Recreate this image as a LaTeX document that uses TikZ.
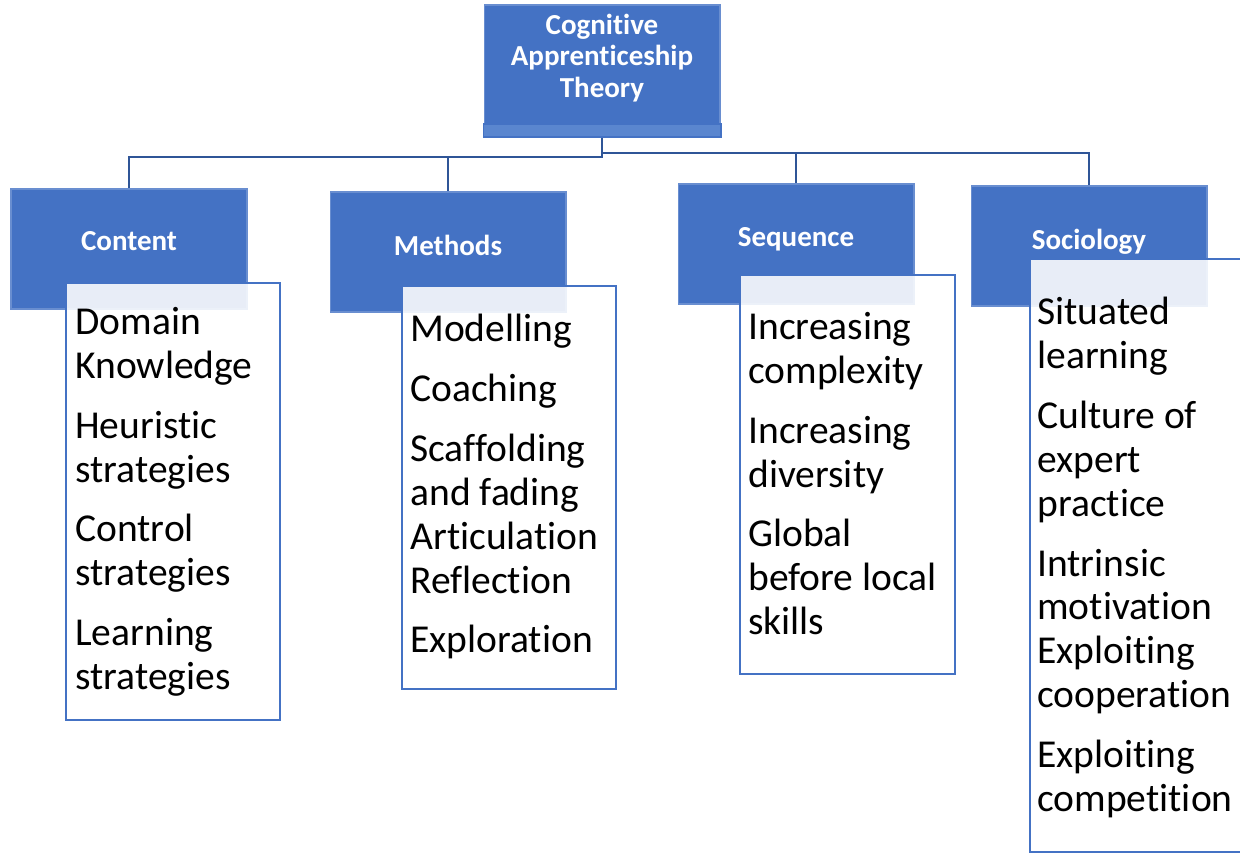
\documentclass[tikz,border=0pt]{standalone}
\usepackage{fontspec}
\setmainfont{Carlito}[Ligatures=NoCommon]
\definecolor{hdrblue}{HTML}{4472C4}
\definecolor{stripblue}{HTML}{5A86CF}
\definecolor{linkblue}{HTML}{2F5597}
\begin{document}
\begin{tikzpicture}[x=0.02cm, y=-0.02cm,
hdr/.style={rectangle, fill=hdrblue, draw=hdrblue!80!white, line width=0.6pt, minimum width=4.72cm, minimum height=2.4cm, inner sep=0pt, text=white, font=\fontsize{16.5}{18}\selectfont\bfseries, align=center},
listbox/.style={rectangle, draw=hdrblue, line width=1.1pt, fill=white, fill opacity=0.88, inner sep=0pt},
listtxt/.style={anchor=north west, inner sep=0pt, align=left, font=\fontsize{22.5}{25}\selectfont},
link/.style={draw=linkblue, line width=1.6pt}]
\useasboundingbox (0,0) rectangle (1240,852);
\clip (0,0) rectangle (1240,852);
\node[hdr] (cat) at (602,65){};
\node[text=white, font=\fontsize{16.5}{18}\selectfont\bfseries, align=center, inner sep=0pt] (cattxt) at (602,58){Cognitive\\Apprenticeship\\Theory};
\node[rectangle, fill=stripblue, draw=hdrblue, line width=0.6pt, minimum width=4.76cm, minimum height=0.26cm, inner sep=0pt] (catbase) at (602,130.5){};
\coordinate (busl) at (602,157);
\coordinate (busr) at (602,153);
\node[hdr] (content) at (129,249){\raisebox{9pt}{Content}};
\node[hdr] (methods) at (448,252){\raisebox{8pt}{Methods}};
\node[hdr] (sequence) at (796,244){\raisebox{8pt}{Sequence}};
\node[hdr] (sociology) at (1089,246){\raisebox{8pt}{Sociology}};
\draw[link](catbase.south) -- (busl) -| (content.north);
\draw[link](busl) -| (methods.north);
\draw[link](busr) -| (sequence.north);
\draw[link](busr) -| (sociology.north);
\node[listbox, minimum width=4.28cm, minimum height=8.74cm] (contentlist) at (173,501.5){};
\node[listbox, minimum width=4.28cm, minimum height=8.06cm] (methodslist) at (509,487.5){};
\node[listbox, minimum width=4.3cm, minimum height=7.98cm] (sequencelist) at (847.5,474.5){};
\node[listbox, minimum width=4.6cm, minimum height=11.86cm] (sociologylist) at (1145,555.5){};
\node[listtxt] (contenttxt) at (75,307){Domain\\Knowledge\\[9pt]Heuristic\\strategies\\[9pt]Control\\strategies\\[9pt]Learning\\strategies};
\node[listtxt] (methodstxt) at (410,314){Modelling\\[9pt]Coaching\\[9pt]Scaffolding\\and fading\\Articulation\\Reflection\\[9pt]Exploration};
\node[listtxt] (sequencetxt) at (748,312){Increasing\\complexity\\[9pt]Increasing\\diversity\\[9pt]Global\\before local\\skills};
\node[listtxt] (sociologytxt) at (1037,297){Situated\\learning\\[9pt]Culture of\\expert\\practice\\[9pt]Intrinsic\\motivation\\Exploiting\\cooperation\\[9pt]Exploiting\\competition};
\end{tikzpicture}
\end{document}
